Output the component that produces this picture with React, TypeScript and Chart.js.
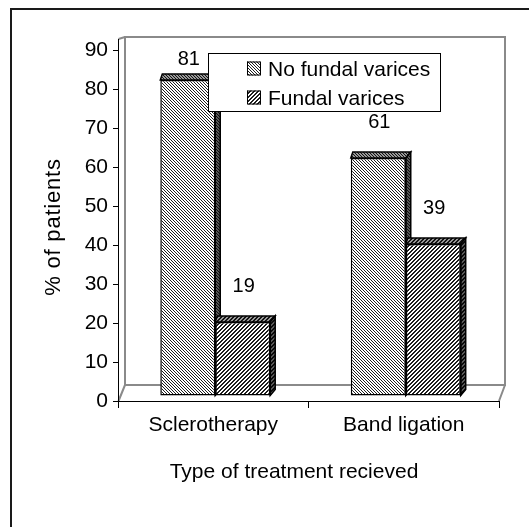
import React, { useEffect, useRef } from 'react';
import { Chart, registerables } from 'chart.js';

Chart.register(...registerables);

const categories = ['Sclerotherapy', 'Band ligation'];
const seriesNames = ['No fundal varices', 'Fundal varices'];
const noFundalValues = [81, 61];
const fundalValues = [19, 39];
const yMin = 0;
const yMax = 90;
const yStep = 10;
const xTitle = 'Type of treatment recieved';
const yTitle = '% of patients';

const FONT = "'Liberation Sans', Arial, sans-serif";

function makePattern(kind: 'down' | 'up'): CanvasPattern | string {
  const c = document.createElement('canvas');
  const size = kind === 'down' ? 3 : 4;
  c.width = size;
  c.height = size;
  const g = c.getContext('2d');
  if (!g) return '#aaa';
  g.fillStyle = '#ffffff';
  g.fillRect(0, 0, size, size);
  g.fillStyle = '#1e1e1e';
  for (let py = 0; py < size; py++) {
    for (let px = 0; px < size; px++) {
      if (kind === 'down') {
        if ((px - py + size) % size === 0) g.fillRect(px, py, 1, 1);
      } else {
        const s = (px + py) % size;
        if (s === 0 || s === 1) g.fillRect(px, py, 1, 1);
      }
    }
  }
  const p = g.createPattern(c, 'repeat');
  return p || '#aaa';
}

function poly(ctx: CanvasRenderingContext2D, pts: number[][]) {
  ctx.beginPath();
  ctx.moveTo(pts[0][0], pts[0][1]);
  for (let i = 1; i < pts.length; i++) ctx.lineTo(pts[i][0], pts[i][1]);
  ctx.closePath();
}

const BAR_DX = 2;
const BAR_DY = -5;

const decor = {
  id: 'decor',
  beforeDraw(chart: any) {
    const { ctx, chartArea: a } = chart;
    ctx.save();
    // outer frame
    ctx.strokeStyle = '#1a1a1a';
    ctx.lineWidth = 2;
    ctx.beginPath();
    ctx.moveTo(11, chart.height + 5);
    ctx.lineTo(11, 9);
    ctx.lineTo(chart.width + 5, 9);
    ctx.stroke();
    // 3D walls
    const fl = a.left + 0.5;
    const fr = a.right;
    const fb = a.bottom;
    const ft = a.top - 11;
    const bl = a.left + 7;
    const br = a.right + 6;
    const bt = a.top - 13;
    const bb = a.bottom - 16;
    ctx.strokeStyle = '#8a8a8a';
    ctx.lineWidth = 2;
    ctx.strokeRect(bl, bt, br - bl, bb - bt);
    ctx.beginPath();
    ctx.moveTo(fl, ft);
    ctx.lineTo(bl, bt);
    ctx.moveTo(fl, fb);
    ctx.lineTo(bl, bb);
    ctx.moveTo(fr, fb);
    ctx.lineTo(br, bb);
    ctx.stroke();
    ctx.strokeStyle = '#000';
    ctx.lineWidth = 1;
    ctx.beginPath();
    ctx.moveTo(fl, ft);
    ctx.lineTo(fl, a.top);
    ctx.stroke();
    ctx.restore();
  },
  beforeDatasetDraw() {
    return false;
  },
  afterDatasetsDraw(chart: any) {
    const ctx: CanvasRenderingContext2D = chart.ctx;
    ctx.save();
    ctx.translate(BAR_DX, BAR_DY);
    for (let i = 0; i < chart.data.datasets.length; i++) {
      const meta = chart.getDatasetMeta(i);
      meta.data.forEach((el: any) => {
        const { x, y, base, width } = el.getProps(['x', 'y', 'base', 'width'], true);
        const L = x - width / 2;
        const R = x + width / 2;
        el.draw(ctx);
        const pat = el.options.backgroundColor;
        // top face
        poly(ctx, [[L, y], [L + 2, y - 6], [R + 5, y - 6], [R, y]]);
        ctx.fillStyle = pat;
        ctx.fill();
        ctx.fillStyle = 'rgba(0,0,0,0.4)';
        ctx.fill();
        ctx.strokeStyle = '#000';
        ctx.lineWidth = 1.5;
        ctx.stroke();
        // side face
        poly(ctx, [[R, y], [R + 5, y - 6], [R + 5, base - 6], [R, base]]);
        ctx.fillStyle = pat;
        ctx.fill();
        ctx.fillStyle = 'rgba(0,0,0,0.65)';
        ctx.fill();
        ctx.stroke();
        // redraw front edge
        ctx.beginPath();
        ctx.moveTo(R, y);
        ctx.lineTo(R, base);
        ctx.stroke();
      });
    }
    ctx.restore();
  },
  afterDraw(chart: any) {
    const ctx: CanvasRenderingContext2D = chart.ctx;
    const a = chart.chartArea;
    ctx.save();
    ctx.fillStyle = '#000';
    // data labels
    ctx.font = `20px ${FONT}`;
    ctx.textAlign = 'center';
    ctx.textBaseline = 'alphabetic';
    for (let i = 0; i < chart.data.datasets.length; i++) {
      const meta = chart.getDatasetMeta(i);
      const values = chart.data.datasets[i].data;
      meta.data.forEach((el: any, j: number) => {
        const topAbs = el.y + BAR_DY;
        const by = Math.max(topAbs - 30, a.top + 15);
        ctx.fillText(String(values[j]), el.x + BAR_DX + 1, by);
      });
    }
    // axis titles
    ctx.font = `21px ${FONT}`;
    ctx.fillText(xTitle, (a.left + a.right) / 2 - 14.5, a.bottom + 77);
    ctx.save();
    ctx.translate(59.5, 227);
    ctx.rotate(-Math.PI / 2);
    ctx.font = `22px ${FONT}`;
    (ctx as any).letterSpacing = '0.8px';
    ctx.fillText(yTitle, 0, 0);
    (ctx as any).letterSpacing = '0px';
    ctx.restore();
    // legend
    const lx = 208.5, ly = 53.5, lw = 232, lh = 58;
    ctx.fillStyle = '#fff';
    ctx.fillRect(lx, ly, lw, lh);
    ctx.strokeStyle = '#000';
    ctx.lineWidth = 1;
    ctx.strokeRect(lx, ly, lw, lh);
    ctx.textAlign = 'left';
    ctx.font = `21px ${FONT}`;
    const rowsY = [68.5, 97.5];
    chart.data.datasets.forEach((ds: any, i: number) => {
      const cy = rowsY[i];
      ctx.fillStyle = ds.backgroundColor;
      ctx.fillRect(247, cy - 7, 14, 14);
      ctx.strokeStyle = '#000';
      ctx.strokeRect(247.5, cy - 6.5, 13, 13);
      ctx.fillStyle = '#000';
      ctx.fillText(ds.label, 268, cy + 7.5);
    });
    ctx.restore();
  },
};

export default function App() {
  const ref = useRef<HTMLCanvasElement>(null);
  useEffect(() => {
    const canvas = ref.current;
    if (!canvas) return;
    const patNo = makePattern('down');
    const patYes = makePattern('up');
    const tickFont = { family: FONT, size: 21 };
    const chart = new Chart(canvas, {
      type: 'bar',
      data: {
        labels: categories,
        datasets: [
          {
            label: seriesNames[0],
            data: noFundalValues,
            backgroundColor: patNo as any,
            borderColor: '#000',
            borderWidth: 1.5,
            borderSkipped: false,
            barPercentage: 1,
            categoryPercentage: 0.577,
          },
          {
            label: seriesNames[1],
            data: fundalValues,
            backgroundColor: patYes as any,
            borderColor: '#000',
            borderWidth: 1.5,
            borderSkipped: false,
            barPercentage: 1,
            categoryPercentage: 0.577,
          },
        ],
      },
      options: {
        responsive: false,
        maintainAspectRatio: false,
        animation: false,
        layout: { padding: { top: 50, right: 30, left: 0, bottom: 0 } },
        plugins: {
          legend: { display: false },
          title: { display: false },
          tooltip: { enabled: false },
        },
        scales: {
          x: {
            type: 'category',
            offset: true,
            grid: {
              display: true,
              offset: true,
              drawOnChartArea: false,
              drawTicks: true,
              tickLength: 7,
              color: '#000',
              lineWidth: 1,
            },
            border: { display: true, color: '#000', width: 1 },
            ticks: { color: '#000', font: tickFont, padding: 5, maxRotation: 0, autoSkip: false },
            afterFit: (s: any) => {
              s.height = 126;
            },
          },
          y: {
            min: yMin,
            max: yMax,
            grid: {
              display: true,
              drawOnChartArea: false,
              drawTicks: true,
              tickLength: 5,
              color: '#000',
              lineWidth: 1,
            },
            border: { display: true, color: '#000', width: 1 },
            ticks: { stepSize: yStep, color: '#000', font: tickFont, padding: 5 },
            afterFit: (s: any) => {
              s.width = 118;
            },
          },
        },
      },
      plugins: [decor as any],
    });
    return () => chart.destroy();
  }, []);
  return (
    <div style={{ position: 'fixed', left: 0, top: 0, width: 529, height: 527, background: '#fff' }}>
      <canvas ref={ref} width={529} height={527} style={{ display: 'block', width: 529, height: 527 }} />
    </div>
  );
}
